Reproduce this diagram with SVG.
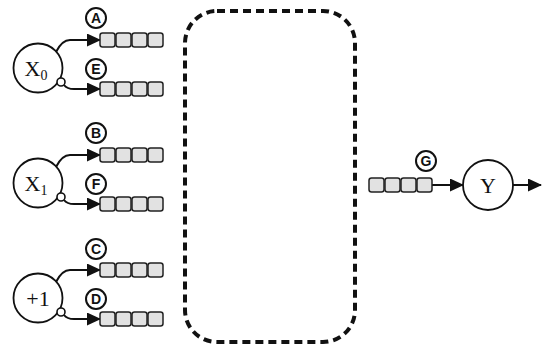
<svg xmlns="http://www.w3.org/2000/svg" width="546" height="351" viewBox="0 0 546 351">
<style>
.node{fill:#fff;stroke:#111;stroke-width:1.8}
.nt{font-family:"Liberation Serif",serif;font-size:22px;fill:#111;text-anchor:middle}
.sub{font-size:14px;fill:#111}
.cell{fill:#e2e2e2;stroke:#222;stroke-width:1.5}
.lab{fill:#fff;stroke:#111;stroke-width:2}
.lt{font-family:"Liberation Sans",sans-serif;font-weight:bold;font-size:14px;fill:#111;text-anchor:middle}
.edge{fill:none;stroke:#111;stroke-width:2;marker-end:url(#ah)}
.inv{fill:#fff;stroke:#111;stroke-width:1.6}
.box{fill:none;stroke:#111;stroke-width:4;stroke-dasharray:8 5}
</style>
<defs>
<marker id="ah" markerUnits="userSpaceOnUse" markerWidth="15" markerHeight="13" refX="13" refY="6.5" orient="auto">
<path d="M0,0 L14,6.5 L0,13 z" fill="#111"/>
</marker>
<g id="q">
<rect class="cell" x="0" y="0" width="15" height="14" rx="2.5"/>
<rect class="cell" x="16" y="0" width="15" height="14" rx="2.5"/>
<rect class="cell" x="32" y="0" width="15" height="14" rx="2.5"/>
<rect class="cell" x="48" y="0" width="15" height="14" rx="2.5"/>
</g>
</defs>

<rect id="region" class="box" x="185" y="11" width="170" height="331" rx="32"/>

<g id="connectors">
<path class="edge" d="M56,52 Q62,40 70,40 L100,40"/>
<path class="edge" d="M64,85 Q67,89 74,89 L100,89"/>
<path class="edge" d="M56,167 Q62,155 70,155 L100,155"/>
<path class="edge" d="M64,200 Q67,204 74,204 L100,204"/>
<path class="edge" d="M56,282 Q62,270 70,270 L100,270"/>
<path class="edge" d="M64,315 Q67,319 74,319 L100,319"/>
<path class="edge" d="M432,185 L463,185"/>
<path class="edge" d="M513,185 L541,185"/>
</g>

<g id="X0">
<circle class="node" cx="38" cy="68" r="24.5"/>
<text class="nt" x="36" y="76">X<tspan class="sub" dy="4">0</tspan></text>
<circle class="inv" cx="61" cy="82" r="4"/>
</g>
<g id="X1">
<circle class="node" cx="38" cy="183" r="24.5"/>
<text class="nt" x="36" y="191">X<tspan class="sub" dy="4">1</tspan></text>
<circle class="inv" cx="61" cy="197" r="4"/>
</g>
<g id="P1">
<circle class="node" cx="38" cy="298" r="24.5"/>
<text class="nt" x="38" y="306">+1</text>
<circle class="inv" cx="61" cy="312" r="4"/>
</g>

<g id="qA"><use href="#q" x="100" y="33"/><circle class="lab" cx="96" cy="18" r="10"/><text class="lt" x="96" y="23">A</text></g>
<g id="qE"><use href="#q" x="100" y="82"/><circle class="lab" cx="96" cy="69" r="10"/><text class="lt" x="96" y="74">E</text></g>
<g id="qB"><use href="#q" x="100" y="148"/><circle class="lab" cx="96" cy="133" r="10"/><text class="lt" x="96" y="138">B</text></g>
<g id="qF"><use href="#q" x="100" y="197"/><circle class="lab" cx="96" cy="184" r="10"/><text class="lt" x="96" y="189">F</text></g>
<g id="qC"><use href="#q" x="100" y="263"/><circle class="lab" cx="96" cy="249" r="10"/><text class="lt" x="96" y="254">C</text></g>
<g id="qD"><use href="#q" x="100" y="312"/><circle class="lab" cx="96" cy="299" r="10"/><text class="lt" x="96" y="304">D</text></g>
<g id="qG"><use href="#q" x="369" y="178"/><circle class="lab" cx="426" cy="161" r="10"/><text class="lt" x="426" y="166">G</text></g>

<g id="Y">
<circle class="node" cx="488" cy="185" r="25"/>
<text class="nt" x="488" y="193">Y</text>
</g>
</svg>
